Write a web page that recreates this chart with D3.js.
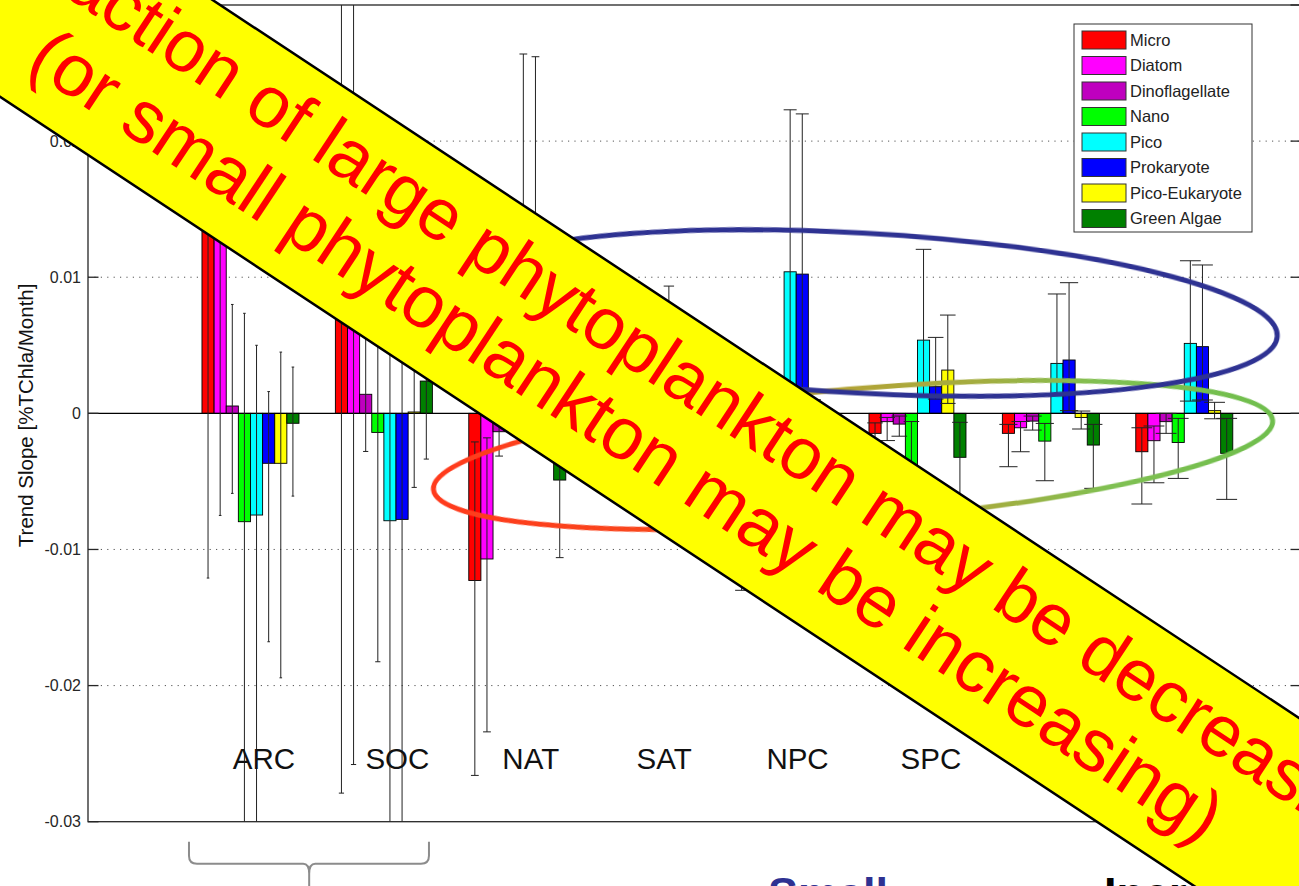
<!DOCTYPE html>
<html>
<head>
<meta charset="utf-8">
<script src="https://cdn.jsdelivr.net/npm/d3@7"></script>
<style>
  html, body { margin: 0; padding: 0; background: #ffffff; overflow: hidden; }
  svg { display: block; font-family: "Liberation Sans", Arial, Helvetica, sans-serif; }
</style>
</head>
<body>
<svg id="chart" width="1299" height="886"></svg>
<script>
// ---- data -------------------------------------------------------------
const regions = ["ARC", "SOC", "NAT", "SAT", "NPC", "SPC", "IND", "EQU"];
const seriesNames = ["Micro", "Diatom", "Dinoflagellate", "Nano", "Pico", "Prokaryote", "Pico-Eukaryote", "Green Algae"];
const seriesColors = ["#ff0000", "#ff00ff", "#bf00bf", "#00ff00", "#00ffff", "#0000ff", "#ffff00", "#008000"];

// trend slopes per region (ARC ... EQU)
const micro   = [0.0170, 0.0095, -0.01228, -0.0020, -0.0040, -0.00147, -0.00147, -0.00282];
const diatom  = [0.0160, 0.0085, -0.0107, -0.0015, -0.0030, -0.00061, -0.00106, -0.00201];
const dino    = [0.00054, 0.0014, -0.00135, -0.0005, -0.0010, -0.00079, -0.00057, -0.00061];
const nano    = [-0.00796, -0.0014, -0.0005, -0.0020, -0.0035, -0.0045, -0.00204, -0.00214];
const pico    = [-0.00747, -0.00789, 0.0090, 0.0030, 0.0104, 0.00538, 0.00367, 0.00514];
const prok    = [-0.00367, -0.00779, 0.0085, 0.0030, 0.01023, 0.00196, 0.00392, 0.0049];
const picoEuk = [-0.00367, 0.0001, 0.0005, 0.0005, 0.0003, 0.00318, -0.0003, 0.0002];
const green   = [-0.00073, 0.00237, -0.0049, -0.0020, -0.0030, -0.00323, -0.00233, -0.00294];

// confidence bounds (lower / upper)
const microLow    = [-0.0121, -0.0279, -0.0266, -0.0055, -0.0130, -0.0025, -0.00392, -0.00666];
const microHigh   = [0.046, 0.047, -0.0021, 0.0015, 0.004, -0.0007, -0.00081, -0.00106];
const diatomLow   = [-0.0075, -0.0258, -0.0234, -0.0045, -0.010, -0.0020, -0.00282, -0.0051];
const diatomHigh  = [0.0395, 0.042, -0.0018, 0.0015, 0.003, -0.0003, -0.0006, -0.00093];
const dinoLow     = [-0.00588, -0.0028, -0.00314, -0.003, -0.004, -0.00168, -0.00123, -0.00147];
const dinoHigh    = [0.0080, 0.0065, 0.0004, 0.002, 0.002, -0.0002, -0.0002, 0.0];
const nanoLow     = [-0.032, -0.01825, -0.0014, -0.005, -0.008, -0.0085, -0.00495, -0.00478];
const nanoHigh    = [0.00735, 0.0155, 0.0005, 0.001, 0.001, -0.0006, -0.00074, -0.00037];
const picoLow     = [-0.031, -0.031, -0.0015, -0.003, -0.0015, 0.00122, 0.00129, 0.0009];
const picoHigh    = [0.0050, 0.015, 0.0264, 0.008, 0.0223, 0.01205, 0.00877, 0.01121];
const prokLow     = [-0.01678, -0.031, -0.002, -0.003, -0.0016, 0.00105, 0.0002, 0.00098];
const prokHigh    = [0.0016, 0.015, 0.0262, 0.00935, 0.022, 0.00558, 0.0096, 0.0109];
const picoEukLow  = [-0.01943, -0.00544, -0.0005, -0.001, -0.002, 0.00073, -0.00115, -0.0004];
const picoEukHigh = [0.0045, 0.0055, 0.0015, 0.002, 0.001, 0.00722, 0.00017, 0.00081];
const greenLow    = [-0.00608, -0.00336, -0.0106, -0.005, -0.006, -0.0075, -0.00551, -0.00632];
const greenHigh   = [0.0034, 0.0081, 0.0005, 0.001, 0.0003, -0.00066, -0.00081, -0.00037];

const yTicks = [-0.03, -0.02, -0.01, 0, 0.01, 0.02, 0.03];
const yTickLabels = ["-0.03", "-0.02", "-0.01", "0", "0.01", "0.02", "0.03"];
const yTitle = "Trend Slope [%TChla/Month]";
const bannerLines = ["Fraction of large phytoplankton may be decreasing", "(or small phytoplankton may be increasing)"];
const footerWords = ["Small", "Increasing"];

const table = seriesNames.map((name, k) => ({
  name,
  color: seriesColors[k],
  values: [micro, diatom, dino, nano, pico, prok, picoEuk, green][k],
  low: [microLow, diatomLow, dinoLow, nanoLow, picoLow, prokLow, picoEukLow, greenLow][k],
  high: [microHigh, diatomHigh, dinoHigh, nanoHigh, picoHigh, prokHigh, picoEukHigh, greenHigh][k]
}));

// ---- scales -----------------------------------------------------------
const svg = d3.select("#chart");
const plot = { left: 88, right: 1301, top: 5, bottom: 821.7 };
const x = d3.scaleLinear().domain([-1.218, 7.875]).range([plot.left, plot.right]);
const y = d3.scaleLinear().domain([-0.03, 0.03]).range([plot.bottom, plot.top]);
const barW = 0.0909;                       // width of one bar in group units
const px = v => x(v) - x(0);               // group units -> pixels
const barX = (g, k) => g - 4 * barW + k * barW;

const defs = svg.append("defs");
defs.append("clipPath").attr("id", "plotClip")
  .append("rect").attr("x", plot.left).attr("y", plot.top)
  .attr("width", plot.right - plot.left).attr("height", plot.bottom - plot.top);

const axisColor = "#262626";

// ---- grid -------------------------------------------------------------
svg.append("g").selectAll("line")
  .data(yTicks.filter(t => t !== 0 && Math.abs(t) < 0.03))
  .join("line")
  .attr("x1", plot.left).attr("x2", plot.right)
  .attr("y1", d => y(d)).attr("y2", d => y(d))
  .attr("stroke", "#555").attr("stroke-width", 1)
  .attr("stroke-dasharray", "1.2,5.2");

// ---- bars -------------------------------------------------------------
const plotG = svg.append("g").attr("clip-path", "url(#plotClip)");
table.forEach((s, k) => {
  plotG.append("g").selectAll("rect")
    .data(s.values.map((v, g) => ({ v, g })))
    .join("rect")
    .attr("x", d => x(barX(d.g, k)))
    .attr("width", px(barW))
    .attr("y", d => y(Math.max(0, d.v)))
    .attr("height", d => Math.abs(y(d.v) - y(0)))
    .attr("fill", s.color)
    .attr("stroke", "#000")
    .attr("stroke-width", 0.9);
});

// zero baseline
plotG.append("line")
  .attr("x1", plot.left).attr("x2", plot.right)
  .attr("y1", y(0)).attr("y2", y(0))
  .attr("stroke", "#000").attr("stroke-width", 1.2);

// error bars, cap width grows with the region index
table.forEach((s, k) => {
  const eb = plotG.append("g").attr("stroke", "#222").attr("stroke-width", 1);
  s.values.forEach((v, g) => {
    const cx = x(barX(g, k) + barW / 2);
    const cap = 1.3 * (g + 1);
    const y1 = y(s.low[g]), y2 = y(s.high[g]);
    eb.append("line").attr("x1", cx).attr("x2", cx).attr("y1", y1).attr("y2", y2);
    eb.append("line").attr("x1", cx - cap).attr("x2", cx + cap).attr("y1", y1).attr("y2", y1);
    eb.append("line").attr("x1", cx - cap).attr("x2", cx + cap).attr("y1", y2).attr("y2", y2);
  });
});

// ---- axes box and ticks ---------------------------------------------------
svg.append("rect")
  .attr("x", plot.left).attr("y", plot.top)
  .attr("width", plot.right - plot.left).attr("height", plot.bottom - plot.top)
  .attr("fill", "none").attr("stroke", axisColor).attr("stroke-width", 1.3);

const ticks = svg.append("g").attr("stroke", axisColor).attr("stroke-width", 1.3);
yTicks.forEach(t => {
  ticks.append("line").attr("x1", plot.left).attr("x2", plot.left + 10.5).attr("y1", y(t)).attr("y2", y(t));
  ticks.append("line").attr("x1", plot.right - 10.5).attr("x2", plot.right).attr("y1", y(t)).attr("y2", y(t));
});

svg.append("g").selectAll("text")
  .data(yTicks)
  .join("text")
  .attr("x", plot.left - 7)
  .attr("y", d => Math.max(y(d), 12))
  .attr("dy", "0.36em")
  .attr("text-anchor", "end")
  .attr("font-size", 16)
  .attr("fill", axisColor)
  .text((d, i) => yTickLabels[i]);

svg.append("text")
  .attr("transform", `translate(32.5,${(y(-0.01) + y(0.01)) / 2 + 2}) rotate(-90)`)
  .attr("text-anchor", "middle")
  .attr("font-size", 20.5)
  .attr("fill", "#111")
  .text(yTitle);

// region names written inside the axes
svg.append("g").selectAll("text")
  .data(regions)
  .join("text")
  .attr("x", (d, i) => x(i + 0.101))
  .attr("y", y(-0.0261))
  .attr("text-anchor", "middle")
  .attr("font-size", 29.5)
  .attr("fill", "#111")
  .text(d => d);

// ---- legend -----------------------------------------------------------
const legend = svg.append("g");
legend.append("rect")
  .attr("x", 1074).attr("y", 24).attr("width", 178).attr("height", 208)
  .attr("fill", "#fff").attr("stroke", "#333").attr("stroke-width", 1);
const rows = legend.selectAll("g.row").data(table).join("g")
  .attr("transform", (d, i) => `translate(1082,${40 + i * 25.5})`);
rows.append("rect")
  .attr("x", 0).attr("y", -9).attr("width", 44).attr("height", 18)
  .attr("fill", d => d.color).attr("stroke", "#333").attr("stroke-width", 1);
rows.append("text")
  .attr("x", 48).attr("y", 0).attr("dy", "0.36em")
  .attr("font-size", 16.5).attr("fill", "#222")
  .text(d => d.name);

// ---- highlight rings (placed in data space) -------------------------------
defs.append("filter").attr("id", "soft")
  .append("feGaussianBlur").attr("stdDeviation", 0.7);

const ringA = { cx: 4.569, cy: 0.00737, rx: 3.133, ry: 0.00588, rot: 3.2 };
const ringB = { cx: 4.517, cy: -0.00306, rx: 3.156, ry: 0.00485, rot: -4.7 };

const grad = defs.append("linearGradient").attr("id", "ringGrad")
  .attr("gradientUnits", "userSpaceOnUse")
  .attr("x1", x(ringB.cx - ringB.rx)).attr("x2", x(ringB.cx + ringB.rx))
  .attr("y1", 0).attr("y2", 0);
[[0, "#ff3a1c"], [0.28, "#f8481f"], [0.45, "#b7a033"], [0.66, "#a3ad40"], [0.8, "#80c052"], [1, "#6fbe4d"]]
  .forEach(([o, c]) => grad.append("stop").attr("offset", o).attr("stop-color", c));

function ring(r, stroke) {
  const cx = x(r.cx), cy = y(r.cy);
  svg.append("ellipse")
    .attr("cx", cx).attr("cy", cy)
    .attr("rx", px(r.rx)).attr("ry", y(0) - y(r.ry))
    .attr("transform", `rotate(${r.rot},${cx},${cy})`)
    .attr("fill", "none").attr("stroke", stroke).attr("stroke-width", 5)
    .attr("filter", "url(#soft)");
}
ring(ringB, "url(#ringGrad)");
ring(ringA, "#2e3192");

// ---- brace under the polar regions -------------------------------------------
const bL = x(-0.461), bR = x(1.338), bM = x(0.44);
const bTop = plot.bottom + 20, bMid = plot.bottom + 42;
svg.append("path")
  .attr("d", `M${bL},${bTop} L${bL},${bMid - 8} Q${bL},${bMid} ${bL + 8},${bMid}
              L${bM - 6},${bMid} Q${bM},${bMid} ${bM},${bMid + 10} L${bM},${bMid + 30}
              M${bM},${bMid + 10} Q${bM},${bMid} ${bM + 6},${bMid}
              L${bR - 8},${bMid} Q${bR},${bMid} ${bR},${bMid - 8} L${bR},${bTop}`)
  .attr("fill", "none").attr("stroke", "#8c8c8c").attr("stroke-width", 2);

// ---- footer words (run off the bottom of the slide) --------------------------
svg.append("text").attr("x", 768).attr("y", 909)
  .attr("font-size", 45).attr("font-weight", "bold").attr("fill", "#2e3192")
  .text(footerWords[0]);
svg.append("text").attr("x", 1104).attr("y", 909)
  .attr("font-size", 45).attr("font-weight", "bold").attr("fill", "#000")
  .text(footerWords[1]);

// ---- diagonal banner ----------------------------------------------------
const banner = svg.append("g").attr("transform", "translate(625,391.2) rotate(33.46)");
banner.append("rect")
  .attr("x", -1600).attr("y", -99).attr("width", 3200).attr("height", 198)
  .attr("fill", "#ffff00").attr("stroke", "#000").attr("stroke-width", 2.5);
banner.selectAll("text").data(bannerLines).join("text")
  .attr("x", (d, i) => i === 0 ? 62 : 26)
  .attr("y", (d, i) => i === 0 ? -21 : 61)
  .attr("text-anchor", "middle")
  .attr("font-size", (d, i) => i === 0 ? 73 : 74)
  .attr("fill", "#ff0000")
  .text(d => d);
</script>
</body>
</html>
